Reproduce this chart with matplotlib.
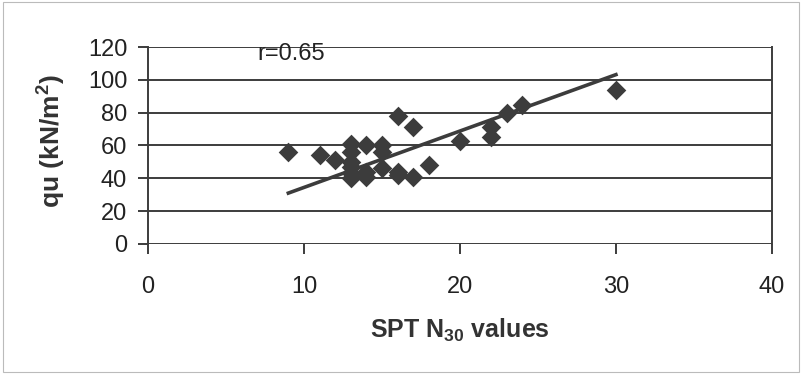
# qu vs SPT N30 scatter with linear trend
import matplotlib.pyplot as plt
import numpy as np
from matplotlib.patches import Rectangle

plt.rcParams["font.family"] = ["Liberation Sans", "DejaVu Sans"]
plt.rcParams["mathtext.default"] = "regular"

# N30 values and unconfined strength qu (kN/m2)
spt_n30 = [9, 11, 12, 13, 13, 13, 13, 13, 13, 14, 14, 14, 15, 15, 15,
           16, 16, 16, 17, 17, 18, 20, 22, 22, 23, 24, 30]
qu = [56, 54, 51, 61, 56, 50, 47, 43, 40, 60, 44, 41, 60, 56, 46,
      78, 44, 42, 71, 41, 48, 63, 71, 65, 80, 85, 94]
r_label = "r=0.65"
x_ticks = [0, 10, 20, 30, 40]
y_ticks = [0, 20, 40, 60, 80, 100, 120]

C_DARK = "#3c3c3c"

fig = plt.figure(figsize=(8.02, 3.74), dpi=100)
ax = fig.add_axes([0.1845, 0.348, 0.778, 0.526])

ax.scatter(spt_n30, qu, marker="D", s=100, color=C_DARK, zorder=3, linewidths=0)

# trend line forced through the origin (Excel style)
x_arr = np.array(spt_n30, dtype=float)
slope = np.dot(x_arr, qu) / np.dot(x_arr, x_arr)
xs = np.array([x_arr.min(), x_arr.max()])
ax.plot(xs, slope * xs, color=C_DARK, lw=2.6, zorder=2)

ax.set_xlim(0, 40)
ax.set_ylim(0, 120)
ax.set_xticks(x_ticks)
ax.set_yticks(y_ticks)
for y in y_ticks:
    ax.axhline(y, color=C_DARK, lw=1.4, zorder=1)

for s in ["left", "right"]:
    ax.spines[s].set_color(C_DARK)
    ax.spines[s].set_linewidth(1.4)
ax.spines["top"].set_visible(False)
ax.spines["bottom"].set_visible(False)

ax.tick_params(axis="both", direction="out", length=7, width=1.4, color=C_DARK,
               labelsize=17, labelcolor="#222222")
ax.tick_params(axis="x", pad=16)
ax.tick_params(axis="y", pad=8)

ax.set_xlabel("SPT N$_{30}$ values", fontsize=18, fontweight="bold",
              color="#333333", labelpad=14)
ax.set_ylabel("qu (kN/m$^2$)", fontsize=19, fontweight="bold", color="#333333")
ax.yaxis.set_label_coords(-0.128, 0.52)

ax.text(7.0, 116, r_label, fontsize=17, color="#222222", va="center", ha="left")

# faint scan frame around the figure
fig.patches.append(Rectangle((0.004, 0.005), 0.992, 0.99, transform=fig.transFigure,
                             fill=False, edgecolor="#bbbbbb", lw=0.8))

fig.savefig("out.png", dpi=100)
